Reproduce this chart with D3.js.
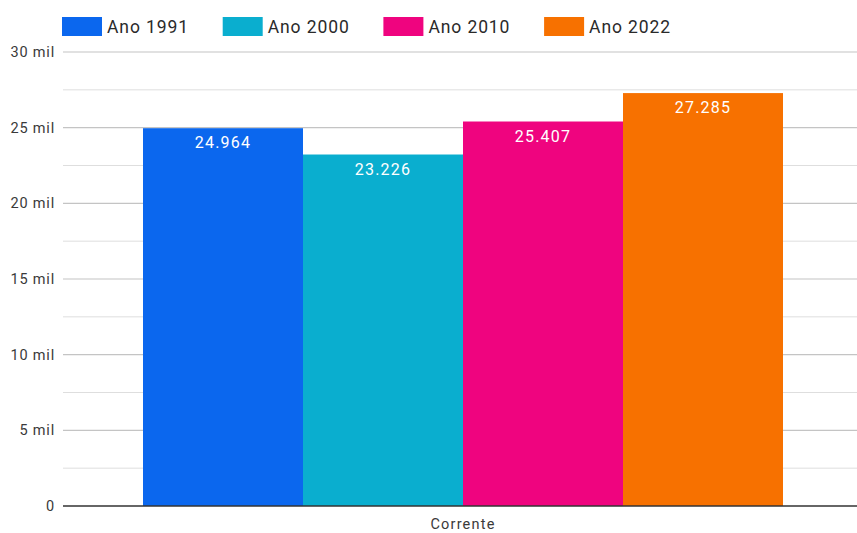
<!DOCTYPE html>
<html><head><meta charset="utf-8">
<script src="https://cdn.jsdelivr.net/npm/d3@7"></script>
<style>body{margin:0;background:#fff;}svg{display:block;font-family:Roboto,"Noto Sans",sans-serif;}</style>
</head><body>
<svg id="c" width="857" height="533"></svg>
<script>
const categories = ["Corrente"];
const seriesNames = ["Ano 1991", "Ano 2000", "Ano 2010", "Ano 2022"];
const seriesValues = [24964, 23226, 25407, 27285];
const seriesColors = ["#0b67ee", "#0aaecf", "#ef047f", "#f77100"];
const yTicks = [0, 5000, 10000, 15000, 20000, 25000, 30000];
const yTickLabels = ["0", "5 mil", "10 mil", "15 mil", "20 mil", "25 mil", "30 mil"];
const yMinorTicks = [2500, 7500, 12500, 17500, 22500, 27500];

(function () {
const svg = d3.select("#c");
const mLeft = 63, mRight = 863, mTop = 52, mBottom = 506;
const y = d3.scaleLinear().domain([0, 30000]).range([mBottom, mTop]);
const x0 = d3.scaleBand().domain(categories).range([mLeft, mRight]).paddingInner(0.2).paddingOuter(0.1);
const x1 = d3.scaleBand().domain(seriesNames).range([0, x0.bandwidth()]);

// minor grid
svg.append("g").selectAll("line").data(yMinorTicks).join("line")
  .attr("x1", mLeft).attr("x2", 857).attr("y1", d => y(d)).attr("y2", d => y(d))
  .attr("stroke", "#dedede").attr("stroke-width", 1);
// major grid
svg.append("g").selectAll("line").data(yTicks.slice(1)).join("line")
  .attr("x1", mLeft).attr("x2", 857).attr("y1", d => y(d)).attr("y2", d => y(d))
  .attr("stroke", "#c4c4c4").attr("stroke-width", 1.2);

// y labels
svg.append("g").selectAll("text").data(yTicks).join("text")
  .attr("x", 55).attr("y", d => y(d)).attr("dy", "0.35em")
  .attr("text-anchor", "end").attr("font-size", 14.5).attr("letter-spacing", 0.8)
  .attr("fill", "#3a3a3a")
  .text((d, i) => yTickLabels[i]);

// bars
const g = svg.append("g").selectAll("g").data(categories).join("g")
  .attr("transform", d => `translate(${x0(d)},0)`);
g.selectAll("rect").data(seriesNames.map((s, i) => ({s, v: seriesValues[i], c: seriesColors[i]}))).join("rect")
  .attr("x", d => x1(d.s)).attr("width", x1.bandwidth())
  .attr("y", d => y(d.v)).attr("height", d => y(0) - y(d.v))
  .attr("fill", d => d.c);
g.selectAll("text").data(seriesNames.map((s, i) => ({s, v: seriesValues[i]}))).join("text")
  .attr("x", d => x1(d.s) + x1.bandwidth() / 2).attr("y", d => y(d.v) + 20)
  .attr("text-anchor", "middle").attr("font-size", 16).attr("letter-spacing", 1.2)
  .attr("fill", "#fff")
  .text(d => d3.format(",")(d.v).replace(",", "."));

// baseline
svg.append("line").attr("x1", mLeft).attr("x2", 857).attr("y1", y(0)).attr("y2", y(0))
  .attr("stroke", "#333").attr("stroke-width", 1.5);

// x label
svg.append("g").selectAll("text").data(categories).join("text")
  .attr("x", d => x0(d) + x0.bandwidth() / 2).attr("y", 529)
  .attr("text-anchor", "middle").attr("font-size", 14.5).attr("letter-spacing", 1.2)
  .attr("fill", "#3a3a3a")
  .text(d => d);

// legend
const leg = svg.append("g").selectAll("g").data(seriesNames).join("g")
  .attr("transform", (d, i) => `translate(${62 + i * 160.7},17)`);
leg.append("rect").attr("width", 40).attr("height", 19).attr("fill", (d, i) => seriesColors[i]);
leg.append("text").attr("x", 45).attr("y", 9.5).attr("dy", "0.35em")
  .attr("font-size", 17.5).attr("letter-spacing", 0.9)
  .attr("fill", "#2a2a2a").text(d => d);
})();
</script>
</body></html>
